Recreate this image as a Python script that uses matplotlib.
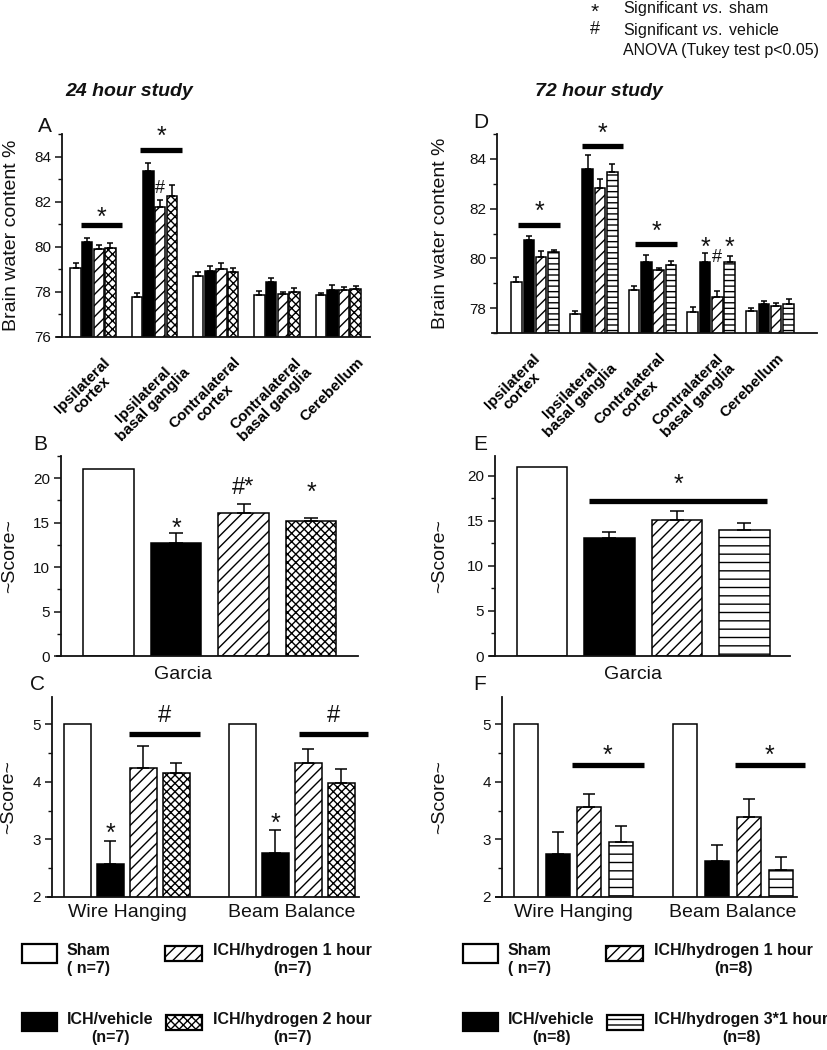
import matplotlib
matplotlib.use("Agg")
import matplotlib.pyplot as plt
import numpy as np
from matplotlib.patches import Rectangle
from matplotlib.ticker import MultipleLocator
from matplotlib.transforms import ScaledTranslation

W, H, DPI = 828, 1050, 100

plt.rcParams["font.family"] = ["Liberation Sans", "DejaVu Sans"]
plt.rcParams["mathtext.fontset"] = "custom"
plt.rcParams["mathtext.rm"] = "Liberation Sans"
plt.rcParams["mathtext.it"] = "Liberation Sans:italic"
plt.rcParams["hatch.linewidth"] = 1.0
plt.rcParams["text.color"] = "#111111"

REGIONS = ["Ipsilateral\ncortex", "Ipsilateral\nbasal ganglia", "Contralateral\ncortex",
           "Contralateral\nbasal ganglia", "Cerebellum"]
TESTS = ["Wire Hanging", "Beam Balance"]

# brain water content (%), rows: sham, vehicle, hydrogen 1 h, hydrogen 2 h / 3*1 h
water_24_mean = [[79.04, 77.78, 78.71, 77.84, 77.84],
                 [80.19, 83.35, 78.93, 78.44, 78.10],
                 [79.88, 81.75, 79.02, 77.90, 78.10],
                 [79.93, 82.25, 78.87, 78.00, 78.15]]
water_24_sem = [[0.22, 0.18, 0.18, 0.20, 0.13],
                [0.22, 0.38, 0.23, 0.18, 0.20],
                [0.22, 0.32, 0.24, 0.10, 0.12],
                [0.22, 0.48, 0.17, 0.18, 0.12]]
water_72_mean = [[79.07, 77.77, 78.71, 77.84, 77.87],
                 [80.73, 83.61, 79.84, 79.84, 78.16],
                 [80.07, 82.81, 79.55, 78.43, 78.08],
                 [80.24, 83.47, 79.75, 79.84, 78.16]]
water_72_sem = [[0.17, 0.13, 0.17, 0.21, 0.13],
                [0.16, 0.56, 0.31, 0.36, 0.13],
                [0.21, 0.39, 0.08, 0.24, 0.13],
                [0.11, 0.34, 0.13, 0.26, 0.19]]

# Garcia score, one value per group
garcia_24_mean = [21.0, 12.66, 16.1, 15.17]
garcia_24_sem = [0.0, 1.13, 1.05, 0.41]
garcia_72_mean = [21.0, 13.07, 15.1, 14.0]
garcia_72_sem = [0.0, 0.67, 1.0, 0.74]

# wire hanging / beam balance, rows are groups
motor_24_mean = [[5.0, 5.0], [2.58, 2.77], [4.24, 4.33], [4.15, 3.97]]
motor_24_sem = [[0.0, 0.0], [0.40, 0.40], [0.38, 0.24], [0.18, 0.25]]
motor_72_mean = [[5.0, 5.0], [2.74, 2.62], [3.56, 3.38], [2.96, 2.47]]
motor_72_sem = [[0.0, 0.0], [0.39, 0.29], [0.22, 0.32], [0.27, 0.22]]

# significance annotations
# lines: (x0, x1, y of bar, y of symbol); marks: (x, y, symbol)
water_24_lines = [(-0.2, 0.47, 80.96, 81.62), (0.77, 1.45, 84.31, 85.2)]
water_24_marks = [(1.095, 82.68, "#")]
water_72_lines = [(-0.29, 0.43, 81.35, 82.17), (0.8, 1.5, 84.53, 85.3), (1.7, 2.42, 80.57, 81.37)]
water_72_marks = [(2.895, 80.7, "*"), (3.105, 80.1, "#"), (3.315, 80.7, "*")]
garcia_24_marks = [(1, 15.1, "*"), (2, 19.2, "#*"), (3, 19.2, "*")]
garcia_72_lines = [(0.69, 3.34, 17.26, 19.8)]
motor_24_lines = [(0.01, 0.44, 4.82, 5.19), (1.04, 1.46, 4.82, 5.19)]
motor_24_marks = [(-0.1, 3.22, "*"), (0.9, 3.39, "*")]
motor_72_lines = [(-0.01, 0.44, 4.29, 4.58), (1.01, 1.45, 4.29, 4.58)]

GROUPS_24 = ["Sham", "ICH/vehicle", "ICH/hydrogen 1 hour", "ICH/hydrogen 2 hour"]
GROUPS_72 = ["Sham", "ICH/vehicle", "ICH/hydrogen 1 hour", "ICH/hydrogen 3*1 hour"]
N_24 = ["( n=7)", "(n=7)", "(n=7)", "(n=7)"]
N_72 = ["( n=7)", "(n=8)", "(n=8)", "(n=8)"]

INK = "#111111"


def fx(x):
    return x / W


def fy(y):
    return 1 - y / H


def make_axes(fig, x0, x1, top, bottom, spine_x):
    ax = fig.add_axes([fx(x0), fy(bottom), (x1 - x0) / W, (bottom - top) / H])
    for side in ("top", "right"):
        ax.spines[side].set_visible(False)
    for side in ("left", "bottom"):
        ax.spines[side].set_linewidth(1.3)
        ax.spines[side].set_color(INK)
    ax.spines["left"].set_position(("axes", (spine_x - x0) / (x1 - x0)))
    ax.tick_params(axis="y", which="major", direction="out", length=5, width=1.1,
                   labelsize=11, pad=3, colors=INK)
    ax.tick_params(axis="y", which="minor", direction="out", length=3, width=1.0, colors=INK)
    ax.tick_params(axis="x", length=0)
    ax.set_facecolor("none")
    return ax


def set_ylabel(ax, text, right_px, x0, x1):
    # ylabel anchor is the right edge of the rotated text
    ax.set_ylabel(text, fontsize=14, color=INK)
    ax.yaxis.set_label_coords((right_px - x0) / (x1 - x0), 0.5)


def bar_style(kind, dense):
    if kind == 0:
        return dict(facecolor="white", hatch=None)
    if kind == 1:
        return dict(facecolor="black", hatch=None)
    if kind == 2:
        return dict(facecolor="white", hatch="///")
    if kind == 3:
        return dict(facecolor="white", hatch="xxxx")
    return dict(facecolor="white", hatch="---" if dense else "--")


def draw_errors(ax, x, m, s, capsize):
    keep = s > 0
    if keep.any():
        ax.errorbar(x[keep], m[keep], yerr=[np.zeros(keep.sum()), s[keep]], fmt="none",
                    ecolor="black", elinewidth=1.1, capsize=capsize, capthick=1.1, zorder=3)


def draw_groups(ax, means, sems, kinds, width, step, capsize, dense):
    n = len(means)
    for i, (m, s, kind) in enumerate(zip(means, sems, kinds)):
        m = np.asarray(m, float)
        s = np.asarray(s, float)
        x = np.arange(len(m)) + (i - (n - 1) / 2) * step
        ax.bar(x, m, width, edgecolor="black", linewidth=1.1, zorder=2, **bar_style(kind, dense))
        draw_errors(ax, x, m, s, capsize)


def draw_single(ax, means, sems, kinds, width, capsize):
    m = np.asarray(means, float)
    s = np.asarray(sems, float)
    x = np.arange(len(m))
    bars = ax.bar(x, m, width, edgecolor="black", linewidth=1.1, zorder=2)
    for bar, kind in zip(bars, kinds):
        style = bar_style(kind, False)
        bar.set_facecolor(style["facecolor"])
        bar.set_hatch(style["hatch"])
    draw_errors(ax, x, m, s, capsize)


GLYPH_CENTER = {"*": 0.57, "#": 0.36, "#*": 0.36}


def mark(ax, x, y, symbol, size):
    ax.annotate(symbol, (x, y), xytext=(0, -GLYPH_CENTER[symbol] * size), textcoords="offset points",
                ha="center", va="baseline", fontsize=size, color=INK, annotation_clip=False)


def sig_lines(ax, lines, symbol, size):
    for x0, x1, y, ys in lines:
        ax.plot([x0, x1], [y, y], color="black", lw=3.8, solid_capstyle="butt", clip_on=False, zorder=4)
        mark(ax, (x0 + x1) / 2, ys, symbol, size)


fig = plt.figure(figsize=(W / DPI, H / DPI), dpi=DPI)

# ---- A / D: brain water content
water_panels = {
    # x0, x1, top, bottom, spine, first group centre, group spacing, ylim, ...
    "A": (57, 370, 134, 337, 62, 93, 61.3, (76, 85), [0, 1, 2, 3], water_24_mean, water_24_sem,
          water_24_lines, water_24_marks, False, -6, 0.19, 0.17, 20),
    "D": (492, 817, 134, 333, 497, 535, 58.75, (77, 85), [0, 1, 2, 4], water_72_mean, water_72_sem,
          water_72_lines, water_72_marks, True, -18, 0.21, 0.18, 449),
}
for key, (x0, x1, top, bottom, spine, c0, gap, ylim, kinds, means, sems, lines, marks,
          dense, shift, step, width, ylab_x) in water_panels.items():
    ax = make_axes(fig, x0, x1, top, bottom, spine)
    ax.set_xlim((x0 - c0) / gap, (x1 - c0) / gap)
    ax.set_ylim(*ylim)
    ax.yaxis.set_major_locator(MultipleLocator(2))
    ax.yaxis.set_minor_locator(MultipleLocator(1))
    draw_groups(ax, means, sems, kinds, width, step, 2.5, dense)
    ax.set_xticks(range(len(REGIONS)))
    ax.set_xticklabels(REGIONS, rotation=45, ha="center", fontsize=11, fontweight="bold",
                       multialignment="center", linespacing=1.0)
    ax.tick_params(axis="x", pad=13)
    for lab in ax.get_xticklabels():
        lab.set_transform(lab.get_transform() + ScaledTranslation(shift / DPI, 0, fig.dpi_scale_trans))
    set_ylabel(ax, "Brain water content %", ylab_x, x0, x1)
    sig_lines(ax, lines, "*", 18)
    for x, y, s in marks:
        mark(ax, x, y, s, 18 if s == "*" else 13)

# ---- B / E: Garcia score
garcia_panels = {
    "B": (57, 358, 61, 108.5, (0, 22.5), [0, 1, 2, 3], garcia_24_mean, garcia_24_sem, 183, 18),
    "E": (490, 790, 495, 542, (0, 22.2), [0, 1, 2, 4], garcia_72_mean, garcia_72_sem, 633, 448),
}
for key, (x0, x1, spine, c0, ylim, kinds, means, sems, label_x, ylab_x) in garcia_panels.items():
    ax = make_axes(fig, x0, x1, 456, 656, spine)
    ax.set_xlim((x0 - c0) / 67.5, (x1 - c0) / 67.5)
    ax.set_ylim(*ylim)
    ax.yaxis.set_major_locator(MultipleLocator(5))
    ax.yaxis.set_minor_locator(MultipleLocator(2.5))
    draw_single(ax, means, sems, kinds, 0.75, 5)
    ax.set_xticks([])
    ax.set_xlabel("Garcia", fontsize=14, color=INK)
    ax.xaxis.set_label_coords((label_x - x0) / (x1 - x0), -0.05)
    set_ylabel(ax, "~Score~", ylab_x, x0, x1)
    if key == "B":
        for x, y, s in garcia_24_marks:
            mark(ax, x, y, s, 18 if s == "*" else 17)
    else:
        sig_lines(ax, garcia_72_lines, "*", 18)

# ---- C / F: wire hanging and beam balance
motor_panels = {
    "C": (48, 359, 52, 127, 165, [0, 1, 2, 3], motor_24_mean, motor_24_sem, 0.158, 17),
    "F": (496, 797, 502, 573.5, 159.5, [0, 1, 2, 4], motor_72_mean, motor_72_sem, 0.15, 448),
}
for key, (x0, x1, spine, c0, gap, kinds, means, sems, width, ylab_x) in motor_panels.items():
    ax = make_axes(fig, x0, x1, 697, 897, spine)
    ax.set_xlim((x0 - c0) / gap, (x1 - c0) / gap)
    ax.set_ylim(2, 5.47)
    ax.yaxis.set_major_locator(MultipleLocator(1))
    ax.yaxis.set_minor_locator(MultipleLocator(0.5))
    draw_groups(ax, means, sems, kinds, width, 0.2, 4, False)
    ax.set_xticks(range(len(TESTS)))
    ax.set_xticklabels(TESTS, fontsize=14, color=INK)
    ax.tick_params(axis="x", pad=5)
    set_ylabel(ax, "~Score~", ylab_x, x0, x1)
    if key == "C":
        sig_lines(ax, motor_24_lines, "#", 17)
        for x, y, s in motor_24_marks:
            mark(ax, x, y, s, 18)
    else:
        sig_lines(ax, motor_72_lines, "*", 18)

# ---- panel letters, titles, notes
for letter, (x, y) in {"A": (38, 127), "D": (473, 122), "B": (33, 445), "E": (473, 445),
                       "C": (30, 685), "F": (473, 685)}.items():
    fig.text(fx(x), fy(y), letter, fontsize=15, ha="left", va="center", color=INK)

fig.text(fx(65), fy(92), "24 hour study", fontsize=14, fontweight="bold", style="italic", va="center")
fig.text(fx(535), fy(92), "72 hour study", fontsize=14, fontweight="bold", style="italic", va="center")

fig.text(fx(595), fy(12), "*", fontsize=15, ha="center", va="center")
fig.text(fx(595), fy(29), "#", fontsize=13, ha="center", va="center")
fig.text(fx(623), fy(9), r"Significant $vs.$ sham", fontsize=11.5, va="center")
fig.text(fx(623), fy(31), r"Significant $vs.$ vehicle", fontsize=11.5, va="center")
fig.text(fx(623), fy(51), "ANOVA (Tukey test p<0.05)", fontsize=11.5, va="center")

# ---- legends
overlay = fig.add_axes([0, 0, 1, 1], zorder=-1)
overlay.set_xlim(0, W)
overlay.set_ylim(H, 0)
overlay.axis("off")

for origin, groups, counts, kinds in ((0, GROUPS_24, N_24, [0, 1, 2, 3]),
                                      (441, GROUPS_72, N_72, [0, 1, 2, 4])):
    slots = [(22, 944, 35, 19, 67), (22, 1013, 35, 18, 67),
             (165, 946, 37, 15, 213), (166, 1015, 36, 15, 213)]
    for (bx, by, bw, bh, tx), name, n, kind in zip(slots, groups, counts, kinds):
        overlay.add_patch(Rectangle((origin + bx, by), bw, bh, edgecolor="black", linewidth=1.6,
                                    **bar_style(kind, True)))
        overlay.text(origin + tx, by - 1 if bh > 16 else by - 3, f"{name}\n{n}", fontsize=11.5,
                     fontweight="bold", ha="left", va="top", multialignment="center", linespacing=1.25)

fig.savefig("out.png", dpi=DPI)
